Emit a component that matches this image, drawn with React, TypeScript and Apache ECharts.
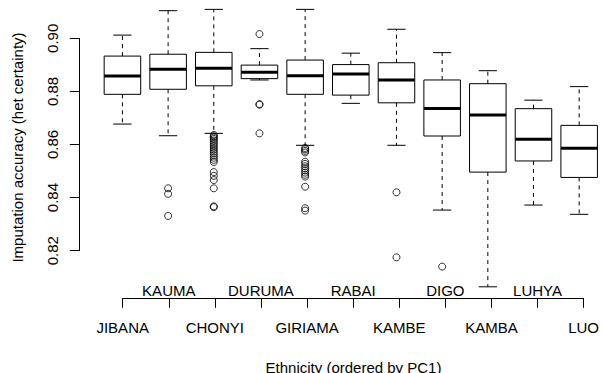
import React, { useEffect, useRef } from "react";
import * as echarts from "echarts";

const categories = ["JIBANA", "KAUMA", "CHONYI", "DURUMA", "GIRIAMA", "RABAI", "KAMBE", "DIGO", "KAMBA", "LUHYA", "LUO"];
// [lower whisker, Q1, median, Q3, upper whisker]
const whiskerLow = [0.8677, 0.8633, 0.8642, 0.8843, 0.8597, 0.8755, 0.8597, 0.8353, 0.8064, 0.8372, 0.8337];
const q1 = [0.8789, 0.8808, 0.8821, 0.8848, 0.8789, 0.8786, 0.8757, 0.8632, 0.8496, 0.8538, 0.8476];
const median = [0.8858, 0.8883, 0.8887, 0.8872, 0.8859, 0.8866, 0.8843, 0.8736, 0.8711, 0.862, 0.8586];
const q3 = [0.8933, 0.894, 0.8947, 0.8899, 0.8918, 0.8901, 0.8908, 0.8843, 0.8829, 0.8735, 0.8672];
const whiskerHigh = [0.9012, 0.9104, 0.9109, 0.8961, 0.9109, 0.8944, 0.9034, 0.8946, 0.8878, 0.8767, 0.8818];

const outliers: number[][] = [
  [],
  [0.8435, 0.8414, 0.8331],
  [0.8636, 0.8631, 0.8626, 0.8621, 0.8615, 0.8608, 0.8601, 0.8594, 0.8587, 0.858, 0.8573, 0.8566, 0.8558, 0.855, 0.8542, 0.8534, 0.8496, 0.8482, 0.8466, 0.8435, 0.8367, 0.8364],
  [0.9016, 0.8752, 0.875, 0.8642],
  [0.8587, 0.8582, 0.8576, 0.857, 0.8535, 0.8527, 0.8518, 0.851, 0.8502, 0.8494, 0.8486, 0.8479, 0.8441, 0.836, 0.8351],
  [],
  [0.842, 0.8175],
  [0.814],
  [],
  [],
  [],
];

const yTickMin = 0.82;
const yTickMax = 0.9;
const yTickStep = 0.02;

const FONT = "Liberation Sans, Arial, Helvetica, sans-serif";

export default function App() {
  const ref = useRef<HTMLDivElement>(null);
  useEffect(() => {
    const chart = echarts.init(ref.current!, undefined, { renderer: "svg" });
    const boxData = categories.map((_, i) => [i, whiskerLow[i], q1[i], median[i], q3[i], whiskerHigh[i]]);
    const outlierData: number[][] = [];
    outliers.forEach((arr, i) => arr.forEach((v) => outlierData.push([i, v])));

    const option: any = {
      animation: false,
      backgroundColor: "#fff",
      grid: [
        { left: 99.6, top: 6.44, width: 507.4, height: 297.36, containLabel: false },
        { left: 79.3, top: 38.3, width: 10, height: 212.4, containLabel: false },
        { left: 122.7, top: 200, width: 461.3, height: 98.3, containLabel: false },
      ],
      xAxis: [
        { type: "category", gridIndex: 0, data: categories, boundaryGap: true, show: false },
        { type: "value", gridIndex: 1, show: false },
        {
          type: "category",
          gridIndex: 2,
          data: categories,
          boundaryGap: false,
          position: "bottom",
          axisLine: { show: true, lineStyle: { color: "#000", width: 1 } },
          axisTick: { show: true, inside: false, length: 9.5, interval: 0, lineStyle: { color: "#000", width: 1 } },
          axisLabel: {
            interval: 0,
            margin: 22,
            color: "#000",
            fontSize: 15,
            fontFamily: FONT,
            formatter: (v: string, i: number) => (i % 2 === 0 ? v : ""),
          },
          splitLine: { show: false },
        },
        {
          type: "category",
          gridIndex: 2,
          data: categories,
          boundaryGap: false,
          position: "bottom",
          axisLine: { show: false },
          axisTick: { show: false },
          axisLabel: {
            interval: 0,
            inside: true,
            margin: 0,
            color: "#000",
            fontSize: 15,
            fontFamily: FONT,
            formatter: (v: string, i: number) => (i % 2 === 1 ? v : ""),
          },
          splitLine: { show: false },
        },
      ],
      yAxis: [
        { type: "value", gridIndex: 0, min: 0.8, max: 0.912, show: false },
        {
          type: "value",
          gridIndex: 1,
          min: yTickMin,
          max: yTickMax,
          interval: yTickStep,
          position: "left",
          axisLine: { show: true, lineStyle: { color: "#000", width: 1 } },
          axisTick: { show: true, inside: false, length: 9.5, lineStyle: { color: "#000", width: 1 } },
          axisLabel: {
            rotate: 90,
            margin: 19,
            color: "#000",
            fontSize: 15,
            fontFamily: FONT,
            formatter: (v: number) => v.toFixed(2),
          },
          splitLine: { show: false },
        },
        { type: "value", gridIndex: 2, show: false },
      ],
      graphic: [
        {
          type: "text",
          x: 353.5,
          y: 367,
          style: {
            text: "Ethnicity (ordered by PC1)",
            fill: "#000",
            font: `15px ${FONT}`,
            textAlign: "center",
            textVerticalAlign: "middle",
          },
        },
        {
          type: "text",
          x: 17,
          y: 147.5,
          rotation: Math.PI / 2,
          style: {
            text: "Imputation accuracy (het certainty)",
            fill: "#000",
            font: `15px ${FONT}`,
            textAlign: "center",
            textVerticalAlign: "middle",
          },
        },
      ],
      series: [
        {
          type: "custom",
          xAxisIndex: 0,
          yAxisIndex: 0,
          data: boxData,
          encode: { x: 0, y: [1, 2, 3, 4, 5] },
          clip: false,
          renderItem: (params: any, api: any) => {
            const idx = api.value(0);
            const pLow = api.coord([idx, api.value(1)]);
            const pQ1 = api.coord([idx, api.value(2)]);
            const pMed = api.coord([idx, api.value(3)]);
            const pQ3 = api.coord([idx, api.value(4)]);
            const pHigh = api.coord([idx, api.value(5)]);
            const bw = api.size([1, 0])[0] * 0.8;
            const cx = pMed[0];
            const stroke = "#000";
            return {
              type: "group",
              children: [
                { type: "line", shape: { x1: cx, y1: pQ3[1], x2: cx, y2: pHigh[1] }, style: { stroke, lineWidth: 1, lineDash: [4, 4] } },
                { type: "line", shape: { x1: cx, y1: pQ1[1], x2: cx, y2: pLow[1] }, style: { stroke, lineWidth: 1, lineDash: [4, 4] } },
                { type: "line", shape: { x1: cx - bw / 4, y1: pHigh[1], x2: cx + bw / 4, y2: pHigh[1] }, style: { stroke, lineWidth: 1 } },
                { type: "line", shape: { x1: cx - bw / 4, y1: pLow[1], x2: cx + bw / 4, y2: pLow[1] }, style: { stroke, lineWidth: 1 } },
                { type: "rect", shape: { x: cx - bw / 2, y: pQ3[1], width: bw, height: pQ1[1] - pQ3[1] }, style: { fill: "#fff", stroke, lineWidth: 1 } },
                { type: "line", shape: { x1: cx - bw / 2, y1: pMed[1], x2: cx + bw / 2, y2: pMed[1] }, style: { stroke, lineWidth: 3 } },
              ],
            };
          },
        },
        {
          type: "scatter",
          xAxisIndex: 0,
          yAxisIndex: 0,
          data: outlierData,
          symbol: "circle",
          symbolSize: 7,
          itemStyle: { color: "rgba(0,0,0,0)", borderColor: "#000", borderWidth: 1 },
          z: 3,
        },
      ],
    };
    chart.setOption(option);
    return () => chart.dispose();
  }, []);
  return <div ref={ref} style={{ width: 602, height: 373, position: "absolute", left: 0, top: 0 }} />;
}
